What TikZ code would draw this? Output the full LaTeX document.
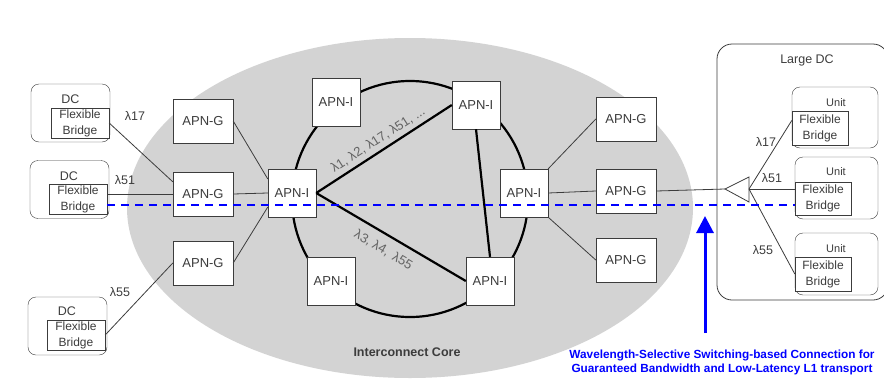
\documentclass[tikz,border=0pt]{standalone}
\usepackage{fontspec}
\setmainfont{Liberation Sans}
\usetikzlibrary{arrows.meta}
\definecolor{coregray}{RGB}{211,211,211}
\definecolor{ink}{RGB}{60,60,60}
\begin{document}
\begin{tikzpicture}[x=1pt, y=-1pt, >=latex,
    every node/.style={font=\fontsize{12.5}{14}\selectfont, text=ink},
    apng/.style={draw=ink, fill=white, minimum width=60pt, minimum height=44pt, inner sep=0pt, font=\fontsize{13}{14}\selectfont},
    apni/.style={draw=ink, fill=white, minimum width=48pt, minimum height=48pt, inner sep=0pt, font=\fontsize{13}{14}\selectfont},
    dcbox/.style={draw=ink, rounded corners=8pt, minimum width=79pt, minimum height=58pt, inner sep=0pt},
    unitbox/.style={draw=ink, rounded corners=8pt, minimum width=83pt, minimum height=62pt, inner sep=0pt},
    bridgebox/.style={draw=ink, fill=white, align=center, minimum width=58pt, minimum height=30pt, inner sep=0pt, font=\fontsize{12}{16}\selectfont},
    wire/.style={draw=ink, line width=0.8pt},
    ring/.style={draw=black, line width=2.2pt},
    lambda/.style={text=ink!80, font=\fontsize{13}{14}\selectfont}]
\useasboundingbox (0,0) rectangle (884,378);
% interconnect core
\fill[coregray] (410,208) ellipse [x radius=283, y radius=170];
\node[font=\bfseries\fontsize{12.5}{14}\selectfont] (core) at (407,352) {Interconnect Core};
\draw[ring] (410,199) circle [radius=118];
% APN-I ring nodes
\node[apni] (i1) at (336,102) {APN-I};
\node[apni] (i2) at (476,105) {APN-I};
\node[apni] (i3) at (292,193) {APN-I};
\node[apni] (i4) at (524,193) {APN-I};
\node[apni] (i5) at (331,281) {APN-I};
\node[apni] (i6) at (490,281) {APN-I};
\draw[ring] (i3.east) -- (i2.west) node[midway, above=1pt, sloped, lambda]{λ1, λ2, λ17, λ51, ...};
\draw[ring] (i3.east) -- (i6.west) node[midway, below=5pt, sloped, lambda]{λ3, λ4,\, λ55};
\draw[ring] (i2.south) -- (i6.north);
% APN-G nodes
\node[apng] (g1) at (203,121) {APN-G};
\node[apng] (g2) at (203,194) {APN-G};
\node[apng] (g3) at (203,263) {APN-G};
\node[apng] (g4) at (626,119) {APN-G};
\node[apng] (g5) at (626,191) {APN-G};
\node[apng] (g6) at (626,260) {APN-G};
\draw[wire] (g1.east) -- (i3.150);
\draw[wire] (g2.east) -- (i3.west);
\draw[wire] (g3.east) -- (i3.210);
\draw[wire] (i4.north east) -- (g4.west);
\draw[wire] (i4.east) -- (g5.west);
\draw[wire] (i4.south east) -- (g6.west);
% small DCs
\node[dcbox] (dc1) at (70.5,113) {};
\node[dcbox] (dc2) at (69.5,189.5) {};
\node[dcbox] (dc3) at (67.5,326) {};
\node (dc1l) at (70.5,99) {DC};
\node (dc2l) at (69,176) {DC};
\node (dc3l) at (67,311) {DC};
\node[bridgebox] (fb1) at (80,123) {Flexible\\Bridge};
\node[bridgebox] (fb2) at (78,199.5) {Flexible\\Bridge};
\node[bridgebox] (fb3) at (76,335) {Flexible\\Bridge};
\draw[wire] (fb1.east) -- (g2.158);
\draw[wire] (fb2.east |- g2.west) -- (g2.west);
\draw[wire] (fb3.east) -- (g3.west);
\node (l17a) at (135,116) {λ17};
\node (l51a) at (125,180) {λ51};
\node (l55a) at (120,292) {λ55};
% large DC
\draw[ink, line width=0.8pt, rounded corners=15pt] (717,44) rectangle (888,300);
\node (bigdc) at (807,60) {Large DC};
\node[unitbox, minimum width=86pt, minimum height=61pt] (u1) at (835,117.5) {};
\node[unitbox] (u2) at (836.5,188) {};
\node[unitbox] (u3) at (836.5,264) {};
\node[font=\fontsize{11}{13}\selectfont] (u1l) at (836,102.5) {Unit};
\node[font=\fontsize{11}{13}\selectfont] (u2l) at (836,172) {Unit};
\node[font=\fontsize{11}{13}\selectfont] (u3l) at (836,249) {Unit};
\node[bridgebox, minimum width=56pt, minimum height=34pt] (ufb1) at (820,128) {Flexible\\Bridge};
\node[bridgebox, minimum width=56pt, minimum height=33pt] (ufb2) at (823,198.5) {Flexible\\Bridge};
\node[bridgebox, minimum width=56pt, minimum height=34pt] (ufb3) at (823,274) {Flexible\\Bridge};
% splitter
\coordinate (spl) at (725,189);
\coordinate (splb) at (749,189);
\draw[wire, fill=white] (spl) -- (749,177) -- (749,202) -- cycle;
\draw[wire] (g5.east) -- (spl);
\draw[wire] (splb) -- (ufb1.165);
\draw[wire] (splb) -- (splb -| ufb2.west);
\draw[wire] (splb) -- (ufb3.west);
\node (l17b) at (766,142) {λ17};
\node (l51b) at (772,178) {λ51};
\node (l55b) at (763,250) {λ55};
% L1 connection
\coordinate (dashy) at (0,205);
\draw[blue, line width=1.8pt, dash pattern=on 8pt off 6pt] (fb2.east |- dashy) -- (ufb2.west |- dashy);
\coordinate (arrbase) at (705,333);
\coordinate (arrtip) at (705,216);
\draw[blue, line width=3pt, -{Triangle[length=17pt, width=17pt]}] (arrbase) -- (arrtip);
\node[align=center, text=blue, font=\bfseries\fontsize{11.8}{14}\selectfont] (note) at (722,362)
  {Wavelength-Selective Switching-based Connection for\\Guaranteed Bandwidth and Low-Latency L1 transport};
\end{tikzpicture}
\end{document}
